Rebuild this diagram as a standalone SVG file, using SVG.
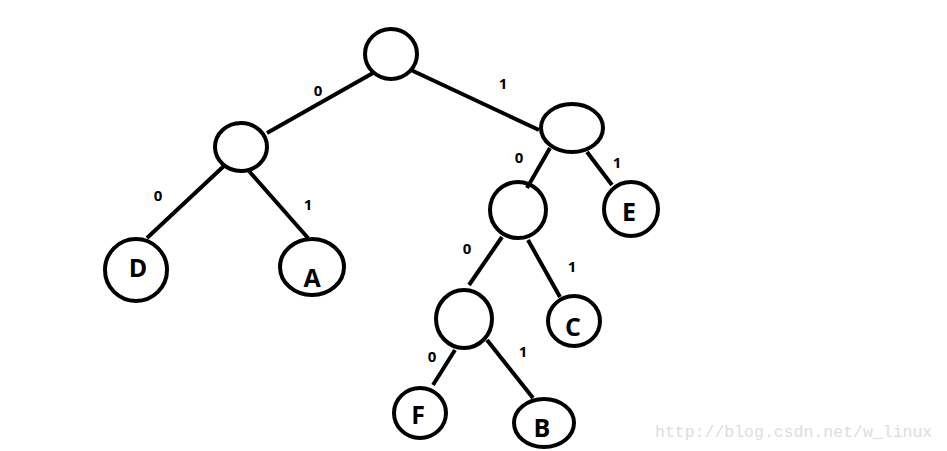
<svg xmlns="http://www.w3.org/2000/svg" width="947" height="451" viewBox="0 0 947 451">
<style>
.n{fill:none;stroke:#000;stroke-width:4}
.e{stroke:#000;stroke-width:4;stroke-linecap:butt}
.b{font-family:"Open Sans","Noto Sans",sans-serif;font-weight:bold;font-size:15px;fill:#000;text-anchor:middle}
.l{font-family:"Open Sans","Noto Sans",sans-serif;font-weight:bold;font-size:25px;fill:#000;text-anchor:middle}
.w{font-family:"Liberation Mono",monospace;font-size:16.5px;fill:#ddd}
</style>
<rect width="947" height="451" fill="#fff"/>
<g id="edges">
<line class="e" x1="373" y1="73" x2="267" y2="133"/>
<line class="e" x1="411" y1="70" x2="539" y2="130"/>
<line class="e" x1="225" y1="165" x2="147" y2="238"/>
<line class="e" x1="248" y1="170" x2="308" y2="238"/>
<line class="e" x1="550" y1="148" x2="527" y2="188"/>
<line class="e" x1="587" y1="152" x2="612" y2="185"/>
<line class="e" x1="502" y1="237" x2="469" y2="285"/>
<line class="e" x1="528" y1="240" x2="560" y2="297"/>
<line class="e" x1="455" y1="350" x2="433" y2="385"/>
<line class="e" x1="487" y1="340" x2="533" y2="398"/>
<text class="b" x="318" y="96">0</text>
<text class="b" x="503" y="89">1</text>
<text class="b" x="158" y="201">0</text>
<text class="b" x="308" y="210">1</text>
<text class="b" x="519" y="163">0</text>
<text class="b" x="617" y="168">1</text>
<text class="b" x="467" y="254">0</text>
<text class="b" x="572" y="272">1</text>
<text class="b" x="432" y="362">0</text>
<text class="b" x="523" y="357">1</text>
</g>
<g id="root"><ellipse class="n" cx="391" cy="54" rx="26" ry="25"/></g>
<g id="n0"><ellipse class="n" cx="241" cy="147" rx="26" ry="24"/></g>
<g id="n1"><ellipse class="n" cx="572" cy="128" rx="31" ry="24"/></g>
<g id="n10"><ellipse class="n" cx="518" cy="210" rx="28" ry="28"/></g>
<g id="n100"><ellipse class="n" cx="464" cy="319" rx="28" ry="29"/></g>
<g id="D"><ellipse class="n" cx="136" cy="270" rx="31" ry="31"/><text class="l" x="138" y="277">D</text></g>
<g id="A"><ellipse class="n" cx="312" cy="267" rx="32" ry="28"/><text class="l" x="312" y="287">A</text></g>
<g id="E"><ellipse class="n" cx="631" cy="209" rx="27" ry="27"/><text class="l" x="629" y="221">E</text></g>
<g id="C"><ellipse class="n" cx="574" cy="321" rx="26" ry="25"/><text class="l" x="573" y="336">C</text></g>
<g id="F"><ellipse class="n" cx="420" cy="413" rx="26" ry="25"/><text class="l" x="418" y="424">F</text></g>
<g id="B"><ellipse class="n" cx="544" cy="423" rx="30" ry="24"/><text class="l" x="542" y="437">B</text></g>
<text class="w" x="655" y="437">http://blog.csdn.net/w_linux</text>
</svg>
